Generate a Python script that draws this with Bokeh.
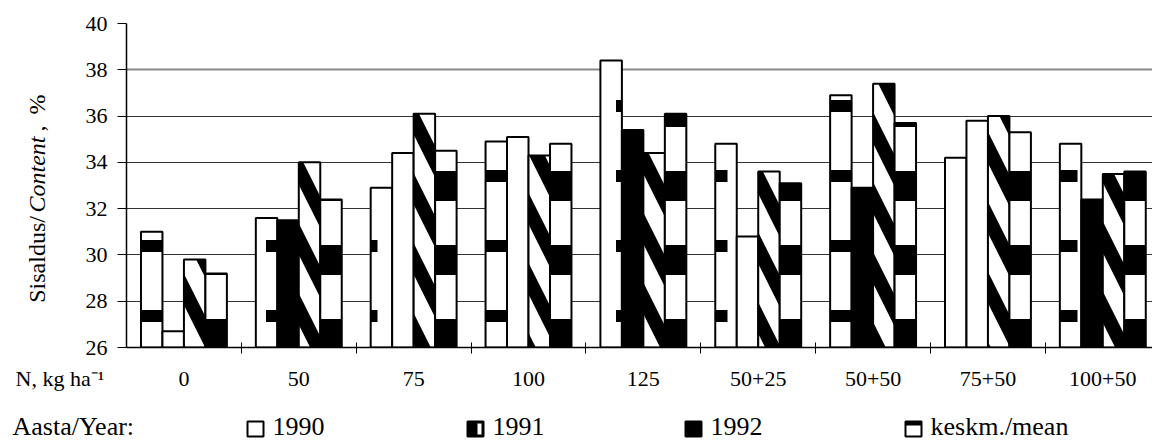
import numpy as np
from bokeh.plotting import figure
from bokeh.layouts import column, row
from bokeh.models import Range1d, FixedTicker, Grid
from bokeh.core.properties import value
from bokeh.embed import file_html
from bokeh.resources import INLINE

# ---- data ----
categories = ["0", "50", "75", "100", "125", "50+25", "50+50", "75+50", "100+50"]
y1990 = [31.0, 31.6, 32.9, 34.9, 38.4, 34.8, 36.9, 34.2, 34.8]
y1991 = [26.7, 31.5, 34.4, 35.1, 35.4, 30.8, 32.9, 35.8, 32.4]
y1992 = [29.8, 34.0, 36.1, 34.3, 34.4, 33.6, 37.4, 36.0, 33.5]
ymean = [29.2, 32.4, 34.5, 34.8, 36.1, 33.1, 35.7, 35.3, 33.6]
series_names = ["1990", "1991", "1992", "keskm./mean"]
y_ticks = [26, 28, 30, 32, 34, 36, 38, 40]
y_min, y_max = 26, 40
x_title = "N, kg ha\u207b\u00b9"
legend_title = "Aasta/Year:"

# ---- styles (not data) ----
fill_1991 = ["white", "black", "white", "white", "black", "white", "black", "white", "black"]

# ---- layout ----
W, H = 1152, 441
LW = 56            # left strip holding the rotated y label
FL, FT, FB = 126, 23, 347
MAIN_H = 360
G = 114.86          # pixels per group
FONT = "Liberation Serif"


def dx(px):
    return (px - FL) / G


xr_main = Range1d(0, (W - FL) / G)

# ---------- main chart ----------
p = figure(width=W - LW, height=MAIN_H, x_range=xr_main, y_range=Range1d(y_min, y_max),
           output_backend="svg", toolbar_location=None,
           min_border_left=FL - LW, min_border_right=0, min_border_top=FT, min_border_bottom=MAIN_H - FB)
p.outline_line_color = None

n = len(categories)
centers = np.arange(n) + 0.5
bw = 0.187
offsets = [-1.5 * bw, -0.5 * bw, 0.5 * bw, 1.5 * bw]

p.vbar(x=centers + offsets[0], top=y1990, bottom=y_min, width=bw, line_color="black", line_width=2,
       fill_color="white", hatch_pattern="horizontal_dash", hatch_color="black", hatch_scale=70, hatch_weight=12)
p.vbar(x=centers + offsets[1], top=y1991, bottom=y_min, width=bw, line_color="black", line_width=2,
       fill_color=fill_1991)
p.vbar(x=centers + offsets[2], top=y1992, bottom=y_min, width=bw, line_color="black", line_width=2,
       fill_color="white", hatch_pattern="left_diagonal_line", hatch_color="black", hatch_scale=70, hatch_weight=14)
p.vbar(x=centers + offsets[3], top=ymean, bottom=y_min, width=bw, line_color="black", line_width=2,
       fill_color="white", hatch_pattern="horizontal_line", hatch_color="black", hatch_scale=74, hatch_weight=30)

p.xaxis.ticker = FixedTicker(ticks=list(centers), minor_ticks=list(np.arange(1, n)))
p.xaxis.major_label_overrides = {float(c): "" for c in centers}
p.xaxis.major_label_text_font_size = "1px"
p.xaxis.major_label_standoff = 0
p.xaxis.major_tick_line_color = None
p.xaxis.minor_tick_in = 5
p.xaxis.minor_tick_out = 6
p.xaxis.minor_tick_line_color = "black"
p.xaxis.axis_line_color = "black"
p.xaxis.axis_line_width = 1.5

p.yaxis.ticker = FixedTicker(ticks=y_ticks)
p.yaxis.major_tick_in = 0
p.yaxis.major_tick_out = 9
p.yaxis.minor_tick_line_color = None
p.yaxis.axis_line_color = "black"
p.yaxis.axis_line_width = 1.5
p.yaxis.major_tick_line_color = "black"
p.yaxis.major_label_text_font = FONT
p.yaxis.major_label_text_font_size = "22px"
p.yaxis.major_label_text_color = "black"
p.yaxis.major_label_standoff = 10

p.xgrid.visible = False
p.ygrid.ticker = FixedTicker(ticks=y_ticks[:-2])
p.ygrid.grid_line_color = "#333333"
p.ygrid.grid_line_width = 1
p.add_layout(Grid(dimension=1, ticker=FixedTicker(ticks=y_ticks[-2:]), grid_line_color="#8a8a8a",
                  grid_line_width=2))

# ---------- left strip: rotated y label with italic part ----------
pl = figure(width=LW, height=MAIN_H, x_range=Range1d(0, LW), y_range=Range1d(0, MAIN_H),
            output_backend="svg", toolbar_location=None, x_axis_location=None, y_axis_location=None,
            min_border=0)
pl.outline_line_color = None
pl.grid.visible = False
ylab_parts = ["Sisaldus/", "Content", ",", "%"]
ylab_py = [214, 210, 120, 101]
ylab_align = ["right", "left", "left", "left"]
ylab_style = ["normal", "italic", "normal", "normal"]
for txt, py, al, st in zip(ylab_parts, ylab_py, ylab_align, ylab_style):
    pl.text(x=[36], y=[MAIN_H - py], text=[txt], angle=np.pi / 2, text_font=value(FONT),
            text_font_size="24px", text_font_style=st, text_color="black",
            text_align=al, text_baseline="middle")

# ---------- bottom strip: category labels (axis) + legend ----------
BH = H - MAIN_H
B2 = 30
pb = figure(width=W, height=BH, x_range=Range1d(-FL / G, (W - FL) / G), y_range=Range1d(-H, -(MAIN_H + B2)),
            output_backend="svg", toolbar_location=None, x_axis_location="above", y_axis_location=None,
            min_border_left=0, min_border_right=0, min_border_bottom=0, min_border_top=B2)
pb.outline_line_color = None
pb.grid.visible = False
title_tick = -0.58
pb.xaxis.ticker = FixedTicker(ticks=[title_tick] + list(centers))
ov = {title_tick: x_title}
ov.update({float(c): lab for c, lab in zip(centers, categories)})
pb.xaxis.major_label_overrides = ov
pb.xaxis.axis_line_color = None
pb.xaxis.major_tick_line_color = None
pb.xaxis.major_tick_out = 0
pb.xaxis.major_tick_in = 0
pb.xaxis.minor_tick_line_color = None
pb.xaxis.major_label_standoff = 0
pb.xaxis.major_label_text_font = FONT
pb.xaxis.major_label_text_font_size = "22px"
pb.xaxis.major_label_text_color = "black"

LEG_MID = 426
leg_txt_px = [12, 272, 492, 710, 930]
pb.text(x=[dx(v) for v in leg_txt_px], y=[-LEG_MID] * 5, text=[legend_title] + series_names,
        text_font=value(FONT), text_font_size="26px", text_color="black", text_baseline="middle")

box_px = [247, 467, 685, 905]
bl = [dx(v) for v in box_px]
br = [dx(v + 16) for v in box_px]
btop, bbot = -421, -436
pb.quad(left=bl, right=br, top=[btop] * 4, bottom=[bbot] * 4,
        fill_color=["white", "black", "black", "white"], line_color="black", line_width=2)
# 1991 swatch: white strip on the right; mean swatch: black top band
pb.quad(left=[dx(box_px[1] + 10)], right=[dx(box_px[1] + 14)], top=[btop - 2], bottom=[bbot + 2],
        fill_color="white", line_color=None)
pb.quad(left=[bl[3]], right=[br[3]], top=[btop], bottom=[btop - 4], fill_color="black", line_color=None)

layout = column(row(pl, p), pb)
open("out.html", "w").write(file_html(layout, INLINE))
